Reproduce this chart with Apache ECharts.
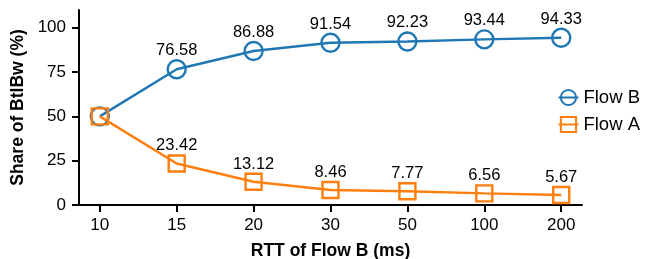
<!DOCTYPE html>
<html>
<head>
<meta charset="utf-8" />
<title>share</title>
<script src="https://cdn.jsdelivr.net/npm/echarts@6/dist/echarts.min.js"></script>
<style>
  html, body { margin: 0; padding: 0; background: #fff; }
  #main { width: 657px; height: 259px; }
</style>
</head>
<body>
<div id="main"></div>
<script type="text/javascript">
  // RTT of flow B (ms)
  var rtt = ['10', '15', '20', '30', '50', '100', '200'];
  var flowB = [50, 76.58, 86.88, 91.54, 92.23, 93.44, 94.33];
  var flowA = [50, 23.42, 13.12, 8.46, 7.77, 6.56, 5.67];
  var yTicks = [0, 25, 50, 75, 100];
  var xIdx = [0, 1, 2, 3, 4, 5, 6];

  var blue = '#1f77b4';
  var orange = '#ff7f0e';
  var font = 'Liberation Sans, Arial, sans-serif';

  function pts(arr) {
    return arr.map(function (v, i) { return [i, v]; });
  }

  var myChart = echarts.init(document.getElementById('main'));

  function mkSeries(name, data, color, symbol, size) {
    return {
      name: name,
      type: 'line',
      data: pts(data),
      symbol: symbol,
      symbolSize: size,
      lineStyle: { color: color, width: 2.4 },
      itemStyle: { color: 'transparent', borderColor: color, borderWidth: 2.4 },
      label: {
        show: true,
        position: 'top',
        distance: 0,
        color: '#000',
        fontFamily: font,
        fontSize: 16.5,
        formatter: function (p) {
          return p.dataIndex === 0 ? '' : p.value[1].toFixed(2);
        }
      },
      emphasis: { disabled: true },
      z: 2
    };
  }

  myChart.setOption({
    animation: false,
    grid: { left: 79, right: 75, top: 10, bottom: 54, outerBoundsMode: 'none' },
    legend: {
      right: 12,
      top: 83,
      orient: 'vertical',
      itemWidth: 20,
      itemHeight: 19,
      itemGap: 8,
      textStyle: { color: '#000', fontFamily: font, fontSize: 18.5 },
      data: ['Flow B', 'Flow A']
    },
    xAxis: {
      type: 'value',
      min: -0.27,
      max: 6.27,
      name: 'RTT of Flow B (ms)',
      nameLocation: 'middle',
      nameGap: 37,
      nameTextStyle: { color: '#000', fontFamily: font, fontSize: 17.5, fontWeight: 'bold' },
      axisLine: { onZero: false, lineStyle: { color: '#000', width: 2 } },
      axisTick: { show: true, inside: false, length: 7, lineStyle: { color: '#000', width: 2 }, customValues: xIdx },
      axisLabel: {
        color: '#000', fontFamily: font, fontSize: 17, margin: 12,
        customValues: xIdx,
        formatter: function (v) { return rtt[Math.round(v)]; }
      },
      splitLine: { show: false }
    },
    yAxis: {
      type: 'value',
      min: 0,
      max: 110,
      name: 'Share of BtlBw (%)',
      nameLocation: 'middle',
      nameGap: 42,
      nameTextStyle: { color: '#000', fontFamily: font, fontSize: 17.5, fontWeight: 'bold' },
      axisLine: { show: true, onZero: false, lineStyle: { color: '#000', width: 2 } },
      axisTick: { show: true, inside: false, length: 7, lineStyle: { color: '#000', width: 2 }, customValues: yTicks },
      axisLabel: { color: '#000', fontFamily: font, fontSize: 17, margin: 13, customValues: yTicks },
      splitLine: { show: false }
    },
    series: [
      mkSeries('Flow B', flowB, blue, 'circle', 18),
      mkSeries('Flow A', flowA, orange, 'rect', 16)
    ]
  });
</script>
</body>
</html>
